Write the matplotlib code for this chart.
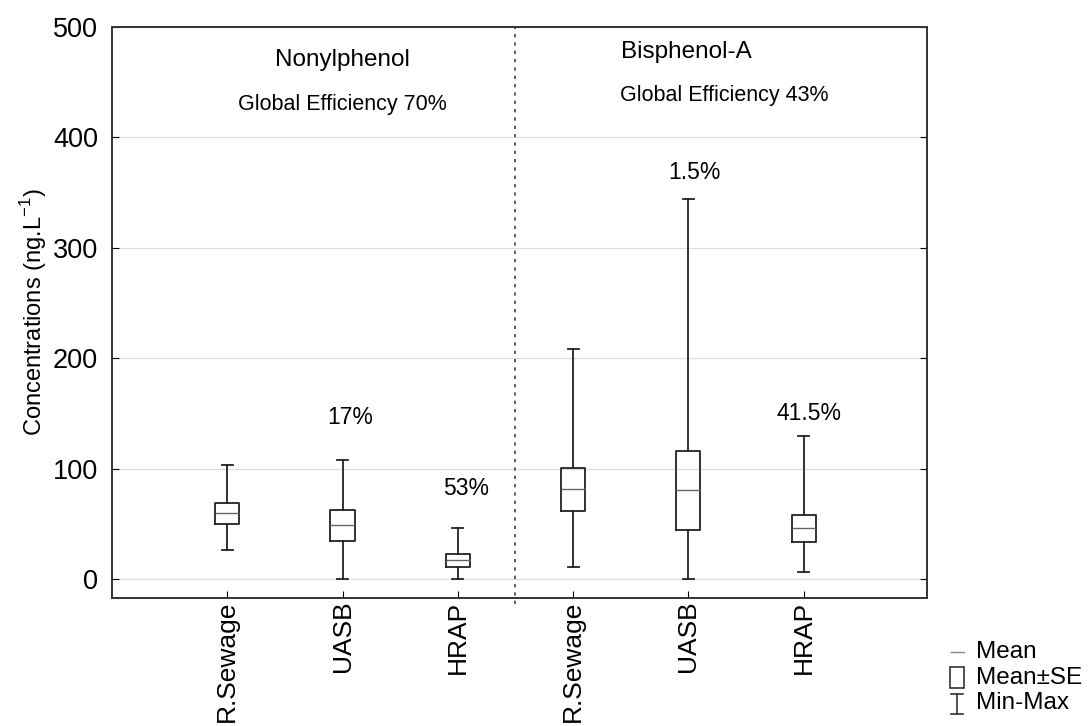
import matplotlib
matplotlib.use("Agg")
import matplotlib.pyplot as plt
from matplotlib.lines import Line2D
from matplotlib.patches import Rectangle

plt.rcParams['font.family'] = ['Liberation Sans', 'DejaVu Sans']

# Group / site labels
sites = ["R.Sewage", "UASB", "HRAP", "R.Sewage", "UASB", "HRAP"]

# Concentration summaries (ng/L): mean, mean-SE, mean+SE, min, max
means = [59.8, 48.9, 17.2, 81.5, 81.0, 46.0]
se_low = [49.8, 34.4, 10.9, 61.6, 45.0, 34.0]
se_high = [68.8, 62.5, 22.6, 101.0, 116.0, 58.5]
mins = [26.3, 0.0, 0.0, 11.0, 0.0, 6.5]
maxs = [103.3, 107.8, 46.2, 208.5, 344.0, 129.5]

# Removal efficiencies per stage
eff_labels = ["17%", "53%", "1.5%", "41.5%"]
eff_pos = [2.07, 3.07, 5.05, 6.05]
eff_y = [146, 82, 368, 150]

compounds = ["Nonylphenol", "Bisphenol-A"]
global_eff = ["Global Efficiency 70%", "Global Efficiency 43%"]

fig = plt.figure(figsize=(10.89, 7.26), dpi=100)
ax = fig.add_axes([0.1028, 0.1763, 0.7484, 0.7865])

stats = []
for i in range(len(sites)):
    stats.append(dict(med=means[i], q1=se_low[i], q3=se_high[i],
                      whislo=mins[i], whishi=maxs[i], fliers=[]))

positions = list(range(1, len(sites) + 1))
ax.bxp(stats, positions=positions, widths=0.21, capwidths=0.095,
       showfliers=False, patch_artist=False,
       boxprops=dict(color='#222222', linewidth=1.3),
       whiskerprops=dict(color='#222222', linewidth=1.3),
       capprops=dict(color='#222222', linewidth=1.3),
       medianprops=dict(color='#666666', linewidth=1.0))

ax.set_xlim(0.0, 7.07)
ax.set_ylim(-17, 500)
ax.set_yticks([0, 100, 200, 300, 400, 500])
ax.set_xticks(positions)
ax.set_xticklabels(sites, rotation=90, fontsize=19)
ax.tick_params(axis='y', labelsize=19.5, direction='in', right=True, length=5, pad=10)
ax.tick_params(axis='x', direction='in', length=5, pad=2)
ax.set_ylabel("Concentrations (ng.L$^{\\mathregular{-1}}$)", fontsize=17, labelpad=3)

ax.grid(axis='y', color='#dddddd', linewidth=0.9)
ax.set_axisbelow(True)
for s in ax.spines.values():
    s.set_color('#333333')
    s.set_linewidth(1.4)

# separator between compounds
ax.plot([3.5, 3.5], [-22, 500], linestyle=(0, (2, 3)), color='#444444',
        linewidth=1.2, clip_on=False)

ax.text(2.0, 470, compounds[0], ha='center', va='center', fontsize=17.5)
ax.text(2.0, 430, global_eff[0], ha='center', va='center', fontsize=15.5)
ax.text(4.98, 477, compounds[1], ha='center', va='center', fontsize=17.5)
ax.text(5.31, 438, global_eff[1], ha='center', va='center', fontsize=15.5)

for lab, x, y in zip(eff_labels, eff_pos, eff_y):
    ax.text(x, y, lab, ha='center', va='center', fontsize=16.5)

# key for the box elements
W, H = 1089.0, 726.0
fx = lambda px: px / W
fy = lambda py: 1 - py / H
fig.add_artist(Line2D([fx(951), fx(964)], [fy(652), fy(652)], color='#888888', lw=1.0))
fig.add_artist(Rectangle((fx(950), fy(688)), fx(14), 21 / H, fill=False,
                         edgecolor='#333333', lw=1.2))
fig.add_artist(Line2D([fx(957), fx(957)], [fy(694), fy(714)], color='#333333', lw=1.2))
fig.add_artist(Line2D([fx(951), fx(963)], [fy(694), fy(694)], color='#333333', lw=1.2))
fig.add_artist(Line2D([fx(951), fx(963)], [fy(714), fy(714)], color='#333333', lw=1.2))
fig.text(fx(976), fy(652), "Mean", fontsize=17.5, va='center', ha='left')
fig.text(fx(976), fy(678), "Mean±SE", fontsize=17.5, va='center', ha='left')
fig.text(fx(976), fy(703), "Min-Max", fontsize=17.5, va='center', ha='left')

fig.savefig("out.png", dpi=100)
